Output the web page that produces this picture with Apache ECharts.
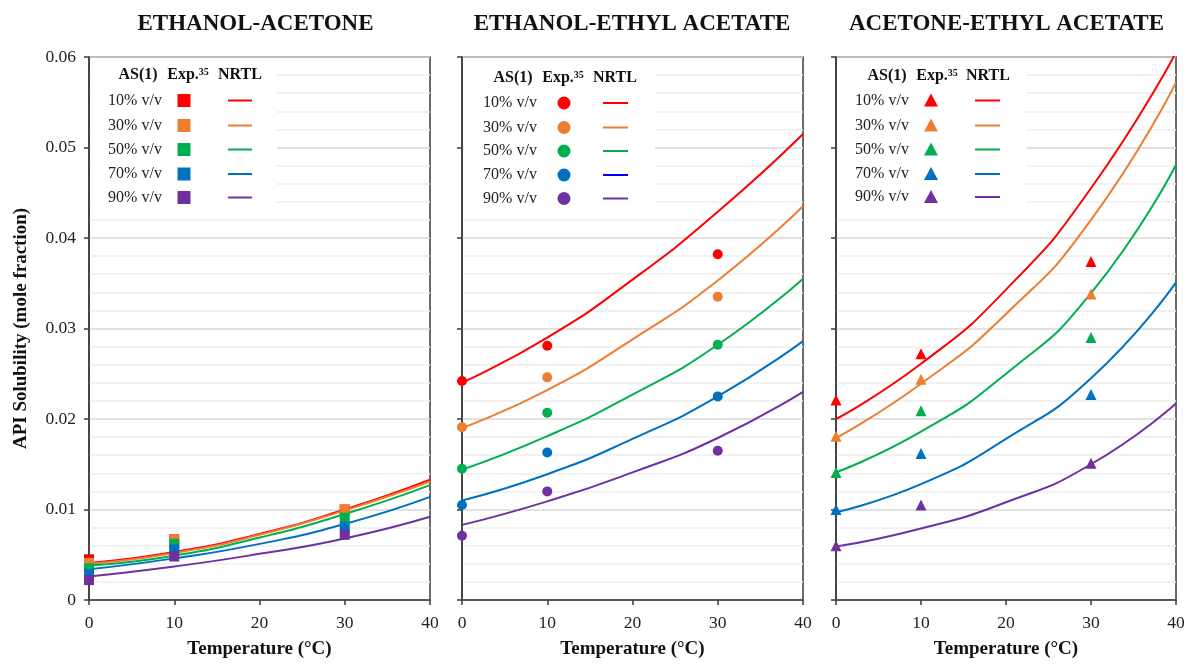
<!DOCTYPE html>
<html>
<head>
<meta charset="utf-8">
<script src="https://cdn.jsdelivr.net/npm/echarts@6/dist/echarts.min.js"></script>
<style>
html,body{margin:0;padding:0;background:#fff;overflow:hidden;}
#chart{width:1188px;height:664px;display:block;}
</style>
</head>
<body>
<div id="chart"></div>
<script>
// ---------- data ----------
const panelTitles = ['ETHANOL-ACETONE', 'ETHANOL-ETHYL ACETATE', 'ACETONE-ETHYL ACETATE'];
const concLabels = ['10% v/v', '30% v/v', '50% v/v', '70% v/v', '90% v/v'];
const xTickLabels = ['0', '10', '20', '30', '40'];
const yTickLabels = ['0', '0.01', '0.02', '0.03', '0.04', '0.05', '0.06'];
const nrtlTemps = [0, 10, 20, 30, 40];
const expTemps = [0, 10, 30];

// Ethanol-Acetone
const ethAceExp = [
  [0.0045, 0.0067, 0.0100],
  [0.0041, 0.0067, 0.0100],
  [0.0035, 0.0062, 0.0091],
  [0.0029, 0.0056, 0.0081],
  [0.0022, 0.0048, 0.0072]
];
const ethAceNrtl = [
  [0.0041, 0.0053, 0.0073, 0.0100, 0.0133],
  [0.0040, 0.0052, 0.0072, 0.0099, 0.0131],
  [0.0038, 0.0049, 0.0069, 0.0095, 0.0127],
  [0.0034, 0.0046, 0.0062, 0.0084, 0.0114],
  [0.0026, 0.0037, 0.0051, 0.0068, 0.0092]
];
// Ethanol-Ethyl acetate
const ethEaExp = [
  [0.0242, 0.0281, 0.0382],
  [0.0191, 0.0246, 0.0335],
  [0.0145, 0.0207, 0.0282],
  [0.0105, 0.0163, 0.0225],
  [0.0071, 0.0120, 0.0165]
];
const ethEaNrtl = [
  [0.0240, 0.0290, 0.0354, 0.0429, 0.0515],
  [0.0190, 0.0232, 0.0288, 0.0353, 0.0435],
  [0.0144, 0.0181, 0.0227, 0.0282, 0.0355],
  [0.0110, 0.0139, 0.0178, 0.0225, 0.0286],
  [0.0083, 0.0109, 0.0141, 0.0179, 0.0230]
];
// Acetone-Ethyl acetate
const aceEaExp = [
  [0.0221, 0.0272, 0.0374],
  [0.0181, 0.0244, 0.0338],
  [0.0141, 0.0209, 0.0290],
  [0.0100, 0.0162, 0.0227],
  [0.0060, 0.0105, 0.0151]
];
const aceEaNrtl = [
  [0.0200, 0.0261, 0.0343, 0.0455, 0.0605],
  [0.0179, 0.0239, 0.0316, 0.0420, 0.0572],
  [0.0141, 0.0186, 0.0250, 0.0339, 0.0481],
  [0.0097, 0.0128, 0.0178, 0.0245, 0.0351],
  [0.0059, 0.0079, 0.0108, 0.0150, 0.0217]
];

// ---------- styles / layout ----------
const colors = ['#FF0000', '#ED7D31', '#00B050', '#0070C0', '#7030A0'];
const FONT = "'Liberation Serif', 'Times New Roman', serif";
const expData = [ethAceExp, ethEaExp, aceEaExp];
const nrtlData = [ethAceNrtl, ethEaNrtl, aceEaNrtl];
const symbols = ['rect', 'circle', 'triangle'];
const gridLefts = [89, 462, 836];
const gridWidths = [341, 341, 340];
const titleCenters = [250.5, 627, 1001.5];
const gridTop = 57, gridHeight = 550;

const legendLayout = [
  { boxRight: 277, hdr: [138, 188, 240], hdrY: 75, txtX: 135, mkX: 184, ln: [228, 252], rows: [100.5, 125.5, 149.5, 174, 197.5] },
  { boxRight: 655, hdr: [513, 563, 615], hdrY: 78, txtX: 510, mkX: 564, ln: [603, 628], rows: [103, 127.5, 151, 175, 198.5] },
  { boxRight: 1026, hdr: [887, 937, 988], hdrY: 76, txtX: 882, mkX: 931, ln: [975, 1000], rows: [100.5, 125.5, 149.5, 174, 197] }
];
const legendLineColors = [colors, ['#FF0000', '#ED7D31', '#00B050', '#0000FF', '#7030A0'], colors];

const grids = [], xAxes = [], yAxes = [], series = [], titles = [], graphics = [];

for (let p = 0; p < 3; p++) {
  grids.push({ left: gridLefts[p], top: gridTop, width: gridWidths[p], height: gridHeight,
    show: true, borderColor: '#3a3a3a', borderWidth: 1.5, backgroundColor: 'transparent' });
  titles.push({ text: panelTitles[p], left: titleCenters[p], top: 8, textAlign: 'center',
    textStyle: { fontFamily: FONT, fontWeight: 'bold', fontSize: 23, color: '#111' } });
  xAxes.push({
    gridIndex: p, type: 'value', min: 0, max: 40, interval: 10,
    name: 'Temperature (°C)', nameLocation: 'middle', nameGap: 40,
    nameTextStyle: { fontFamily: FONT, fontWeight: 'bold', fontSize: 19, color: '#111' },
    axisLine: { show: true, onZero: false, lineStyle: { color: '#3a3a3a', width: 1.5 } },
    axisTick: { show: true, inside: false, length: 5, lineStyle: { color: '#3a3a3a', width: 1.5 } },
    axisLabel: { show: true, margin: 14, fontFamily: FONT, fontSize: 17.5, color: '#222',
      formatter: v => xTickLabels[Math.round(v / 10)] },
    splitLine: { show: false }
  });
  yAxes.push({
    gridIndex: p, type: 'value', min: 0, max: 0.06, interval: 0.01, splitNumber: 6,
    name: p === 0 ? 'API Solubility (mole fraction)' : '', nameLocation: 'middle', nameGap: 58,
    nameTextStyle: { fontFamily: FONT, fontWeight: 'bold', fontSize: 19, color: '#111' },
    axisLine: { show: true, onZero: false, lineStyle: { color: '#3a3a3a', width: 1.5 } },
    axisTick: { show: true, inside: false, length: 5, lineStyle: { color: '#3a3a3a', width: 1.5 } },
    axisLabel: { show: p === 0, margin: 13, fontFamily: FONT, fontSize: 17.5, color: '#222',
      formatter: v => yTickLabels[Math.round(v / 0.01)] },
    splitLine: { show: true, lineStyle: { color: '#d9d9d9', width: 1.5 } },
    minorTick: { show: false, splitNumber: 5 },
    minorSplitLine: { show: true, lineStyle: { color: '#eeeeee', width: 1.5 } }
  });
  for (let i = 0; i < 5; i++) {
    series.push({
      type: 'line', name: panelTitles[p] + ' NRTL ' + concLabels[i],
      xAxisIndex: p, yAxisIndex: p,
      data: nrtlTemps.map((t, j) => [t, nrtlData[p][i][j]]),
      smooth: 0.55, showSymbol: false, symbol: 'none', clip: true,
      lineStyle: { color: colors[i], width: 2 }, z: 2, silent: true
    });
  }
  for (let i = 0; i < 5; i++) {
    series.push({
      type: 'scatter', name: panelTitles[p] + ' Exp ' + concLabels[i],
      xAxisIndex: p, yAxisIndex: p,
      data: expTemps.map((t, j) => [t, expData[p][i][j]]),
      symbol: symbols[p], symbolSize: p === 2 ? 11 : 10,
      itemStyle: { color: colors[i], opacity: 1 }, z: 3, silent: true
    });
  }
  // legend table
  const L = legendLayout[p];
  graphics.push({ type: 'rect', z: 50, shape: { x: gridLefts[p] + 2, y: gridTop + 2, width: L.boxRight - gridLefts[p] - 2, height: 212 - gridTop },
    style: { fill: '#ffffff' } });
  const hdrFont = 'bold 16px ' + FONT;
  graphics.push({ type: 'text', z: 60, x: L.hdr[0], y: L.hdrY, style: { text: 'AS(1)', font: hdrFont, fill: '#111', textAlign: 'center', textVerticalAlign: 'middle' } });
  graphics.push({ type: 'text', z: 60, x: L.hdr[1], y: L.hdrY, style: {
    text: '{a|Exp.}{b|35}', textAlign: 'center', textVerticalAlign: 'middle',
    rich: { a: { fontFamily: FONT, fontWeight: 'bold', fontSize: 16, fill: '#111', color: '#111' },
            b: { fontFamily: FONT, fontWeight: 'bold', fontSize: 10, fill: '#111', color: '#111', verticalAlign: 'top', padding: [0, 0, 6, 0] } } } });
  graphics.push({ type: 'text', z: 60, x: L.hdr[2], y: L.hdrY, style: { text: 'NRTL', font: hdrFont, fill: '#111', textAlign: 'center', textVerticalAlign: 'middle' } });
  for (let i = 0; i < 5; i++) {
    const y = L.rows[i];
    graphics.push({ type: 'text', z: 60, x: L.txtX, y: y, style: { text: concLabels[i], font: '16px ' + FONT, fill: '#222', textAlign: 'center', textVerticalAlign: 'middle' } });
    if (p === 0) {
      graphics.push({ type: 'rect', z: 60, shape: { x: L.mkX - 6.5, y: y - 6.5, width: 13, height: 13 }, style: { fill: colors[i] } });
    } else if (p === 1) {
      graphics.push({ type: 'circle', z: 60, shape: { cx: L.mkX, cy: y, r: 6.5 }, style: { fill: colors[i] } });
    } else {
      graphics.push({ type: 'polygon', z: 60, shape: { points: [[L.mkX, y - 7], [L.mkX + 7, y + 6], [L.mkX - 7, y + 6]] }, style: { fill: colors[i] } });
    }
    graphics.push({ type: 'line', z: 60, shape: { x1: L.ln[0], y1: y, x2: L.ln[1], y2: y }, style: { stroke: legendLineColors[p][i], lineWidth: 2 } });
  }
}

const chart = echarts.init(document.getElementById('chart'), null, { renderer: 'canvas' });
chart.setOption({
  animation: false,
  backgroundColor: '#ffffff',
  textStyle: { fontFamily: FONT },
  title: titles,
  grid: grids,
  xAxis: xAxes,
  yAxis: yAxes,
  series: series,
  graphic: { elements: graphics }
});
</script>
</body>
</html>
